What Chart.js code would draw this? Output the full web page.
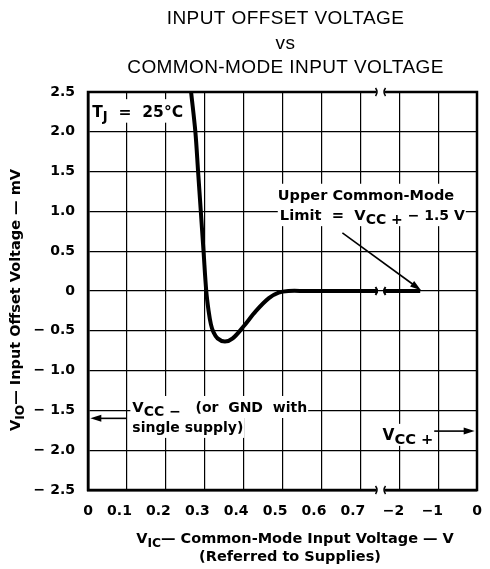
<!DOCTYPE html>
<html>
<head>
<meta charset="utf-8">
<script src="https://cdn.jsdelivr.net/npm/chart.js@4.4.1/dist/chart.umd.min.js"></script>
<style>
  html, body { margin: 0; padding: 0; background: #fff; }
</style>
</head>
<body>
<canvas id="c" width="490" height="569"></canvas>
<script>
const titleLines = ['INPUT OFFSET VOLTAGE', 'vs', 'COMMON-MODE INPUT VOLTAGE'];

// x axis is in grid units: 0..0.7 V above VCC-, then a break, then -2, -1, 0 V below VCC+
const xTickLabels = ['0', '0.1', '0.2', '0.3', '0.4', '0.5', '0.6', '0.7', '−2', '−1', '0'];
const yTickValues = [2.5, 2, 1.5, 1, 0.5, 0, -0.5, -1, -1.5, -2, -2.5];
const yTickLabels = ['2.5', '2.0', '1.5', '1.0', '0.5', '0', '− 0.5', '− 1.0', '− 1.5', '− 2.0', '− 2.5'];

// VIC (grid units) / VIO (mV), null = axis break
const vicValues = [0.265, 0.276, 0.283, 0.290, 0.297, 0.304, 0.310, 0.316, 0.322, 0.333, 0.352,
  0.372, 0.399, 0.432, 0.465, 0.490, 0.515, 0.560, 0.745, 0.752, 0.760, 0.854];
const vioValues = [2.5, 2.0, 1.5, 1.0, 0.5, 0.0, -0.25, -0.42, -0.51, -0.595, -0.635,
  -0.595, -0.45, -0.25, -0.09, -0.02, 0, 0, 0, null, 0, 0];

const breakAt = 0.752;
const FONT = '"DejaVu Sans", sans-serif';

// runs: [text, sizeFactor, drop]  (drop > 0 = subscript)
function runsWidth(ctx, runs, size) {
  let w = 0;
  runs.forEach(([t, f = 1]) => {
    ctx.font = `bold ${size * f}px ${FONT}`;
    w += ctx.measureText(t).width;
  });
  return w;
}

function drawRuns(ctx, runs, x, y, size) {
  let cx = x;
  runs.forEach(([t, f = 1, drop = 0]) => {
    ctx.font = `bold ${size * f}px ${FONT}`;
    ctx.fillText(t, cx, y + drop);
    cx += ctx.measureText(t).width;
  });
}

function note(chart, runs, vx, vy, size) {
  const { ctx, scales } = chart;
  const px = scales.x.getPixelForValue(vx);
  const py = scales.y.getPixelForValue(vy);
  const w = runsWidth(ctx, runs, size);
  ctx.fillStyle = '#fff';
  ctx.fillRect(px - 2, py - size - 2, w + 3, size + 8);
  ctx.fillStyle = '#000';
  drawRuns(ctx, runs, px, py, size);
}

function arrow(ctx, x1, y1, x2, y2) {
  const ang = Math.atan2(y2 - y1, x2 - x1);
  const len = 11, half = 3.5;
  ctx.beginPath();
  ctx.moveTo(x1, y1);
  ctx.lineTo(x2 - Math.cos(ang) * len * 0.8, y2 - Math.sin(ang) * len * 0.8);
  ctx.lineWidth = 1.6;
  ctx.stroke();
  ctx.beginPath();
  ctx.moveTo(x2, y2);
  ctx.lineTo(x2 - Math.cos(ang) * len - Math.sin(ang) * half, y2 - Math.sin(ang) * len + Math.cos(ang) * half);
  ctx.lineTo(x2 - Math.cos(ang) * len + Math.sin(ang) * half, y2 - Math.sin(ang) * len - Math.cos(ang) * half);
  ctx.closePath();
  ctx.fill();
}

function breakMark(ctx, bx, by, clear, lw) {
  if (clear) {
    ctx.fillStyle = '#fff';
    ctx.fillRect(bx - 4, by - 3, 8, 6);
    ctx.fillStyle = '#000';
  }
  ctx.lineWidth = lw;
  [-3.5, 3.5].forEach(off => {
    const s = off < 0 ? 1.5 : -1.5;
    ctx.beginPath();
    ctx.moveTo(bx + off - s, by - 4);
    ctx.quadraticCurveTo(bx + off + s, by, bx + off - s, by + 4);
    ctx.stroke();
  });
}

const overlay = {
  id: 'overlay',
  afterDraw(chart) {
    const { ctx, chartArea: a, scales: { x, y } } = chart;
    ctx.save();
    ctx.strokeStyle = '#000';
    ctx.fillStyle = '#000';

    // frame
    ctx.lineWidth = 2.5;
    ctx.strokeRect(a.left, a.top, a.right - a.left, a.bottom - a.top);

    // breaks
    const bx = x.getPixelForValue(breakAt);
    breakMark(ctx, bx, a.top, true, 1.5);
    breakMark(ctx, bx, a.bottom, true, 1.5);
    breakMark(ctx, bx, y.getPixelForValue(0), false, 2);

    // notes
    note(chart, [['T'], ['J', 0.85, 4], ['  =  25°C']], 0.011, 2.19, 15.5);
    note(chart, [['Upper Common-Mode']], 0.488, 1.14, 14.5);
    note(chart, [['Limit  =  V', 1.05], ['CC +', 1, 4], [' − 1.5 V']], 0.493, 0.89, 14);
    note(chart, [['V', 1.05], ['CC −', 1, 4], ['   (or  GND  with']], 0.114, -1.52, 14);
    note(chart, [['single supply)']], 0.114, -1.77, 14);
    note(chart, [['V', 1.1], ['CC +', 1.05, 4]], 0.757, -1.87, 14);

    // arrows
    arrow(ctx, x.getPixelForValue(0.654), y.getPixelForValue(0.73), x.getPixelForValue(0.856), y.getPixelForValue(0.01));
    arrow(ctx, x.getPixelForValue(0.1), y.getPixelForValue(-1.6), x.getPixelForValue(0.006), y.getPixelForValue(-1.6));
    arrow(ctx, x.getPixelForValue(0.89), y.getPixelForValue(-1.76), x.getPixelForValue(0.994), y.getPixelForValue(-1.76));

    // title
    ctx.textAlign = 'center';
    ctx.font = `19px "Liberation Sans", sans-serif`;
    ctx.letterSpacing = '0.4px';
    const cx = (a.left + a.right) / 2 + 3;
    titleLines.forEach((t, i) => ctx.fillText(t, cx, 24 + i * 24.5));
    ctx.letterSpacing = '0px';
    ctx.textAlign = 'left';

    // x axis title
    const xr1 = [['V'], ['IC', 0.85, 4], ['— Common-Mode Input Voltage — V']];
    let w = runsWidth(ctx, xr1, 14.5);
    drawRuns(ctx, xr1, 295 - w / 2, 543, 14.5);
    const xr2 = [['(Referred to Supplies)']];
    w = runsWidth(ctx, xr2, 14.5);
    drawRuns(ctx, xr2, 290 - w / 2, 561, 14.5);

    // y axis title
    ctx.save();
    ctx.translate(20, 300);
    ctx.rotate(-Math.PI / 2);
    const yr = [['V'], ['IO', 0.85, 4], ['— Input Offset Voltage — mV']];
    w = runsWidth(ctx, yr, 14.5);
    drawRuns(ctx, yr, -w / 2, 0, 14.5);
    ctx.restore();

    ctx.restore();
  }
};

new Chart(document.getElementById('c'), {
  type: 'line',
  data: {
    datasets: [{
      data: vicValues.map((v, i) => ({ x: v, y: vioValues[i] })),
      borderColor: '#000',
      borderWidth: 4,
      pointRadius: 0,
      tension: 0.35,
      spanGaps: false
    }]
  },
  options: {
    responsive: false,
    animation: false,
    layout: { padding: { left: 0, right: 6, top: 92, bottom: 0 } },
    plugins: { legend: { display: false }, tooltip: { enabled: false } },
    scales: {
      x: {
        type: 'linear',
        min: 0,
        max: 1,
        afterFit: s => { s.height = 79; },
        afterBuildTicks: s => { s.ticks = xTickLabels.map((l, i) => ({ value: i / 10 })); },
        ticks: {
          autoSkip: false,
          maxRotation: 0,
          align: 'end',
          labelOffset: 5,
          padding: 13,
          color: '#000',
          font: { family: 'DejaVu Sans', weight: 'bold', size: 14 },
          callback: (v, i) => xTickLabels[i]
        },
        grid: { color: '#000', lineWidth: 1.2, drawTicks: false },
        border: { color: '#000', width: 2.5 }
      },
      y: {
        min: -2.5,
        max: 2.5,
        afterFit: s => { s.width = 88; },
        afterBuildTicks: s => { s.ticks = yTickValues.map(v => ({ value: v })); },
        ticks: {
          padding: 13,
          color: '#000',
          font: { family: 'DejaVu Sans', weight: 'bold', size: 14 },
          callback: (v, i) => yTickLabels[i]
        },
        grid: { color: '#000', lineWidth: 1.2, drawTicks: false },
        border: { color: '#000', width: 2.5 }
      }
    }
  },
  plugins: [overlay]
});
</script>
</body>
</html>
